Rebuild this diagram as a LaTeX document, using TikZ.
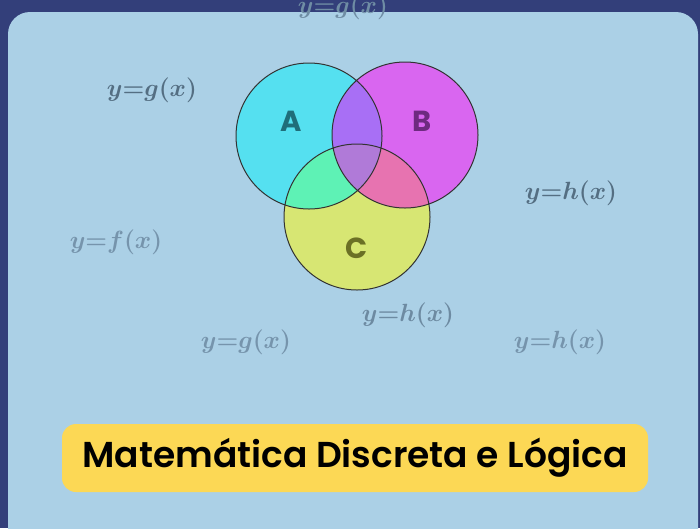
\documentclass[tikz,border=0pt]{standalone}
\usepackage{fontspec}
\newfontfamily\titlefont{Poppins}[BoldFont={* SemiBold}]
\newfontfamily\labelfont{Poppins}[BoldFont={* Bold}]
\definecolor{navy}{RGB}{51,63,122}
\definecolor{panel}{RGB}{171,208,230}
\definecolor{ca}{RGB}{85,224,240}
\definecolor{cb}{RGB}{217,102,240}
\definecolor{cc}{RGB}{215,230,115}
\definecolor{cab}{RGB}{168,111,245}
\definecolor{cac}{RGB}{94,242,181}
\definecolor{cbc}{RGB}{231,115,176}
\definecolor{cabc}{RGB}{176,122,216}
\definecolor{gdark}{RGB}{84,110,130}
\definecolor{glight}{RGB}{118,148,172}
\definecolor{ybox}{RGB}{252,216,85}
\tikzset{
  fn/.style={font=\fontsize{25}{27}\selectfont\boldmath, inner sep=0pt},
  setlabel/.style={font=\labelfont\bfseries\fontsize{29}{31}\selectfont, inner sep=0pt},
}
\begin{document}
\begin{tikzpicture}[x=1pt,y=-1pt]
\useasboundingbox (0,0) rectangle (700,528);
\fill[navy] (0,0) rectangle (700,528);
\begin{scope}
\clip (0,0) rectangle (700,528);
\fill[panel, rounded corners=22pt] (8,12) rectangle (698,560);
\node[fn, text=glight!80!gdark] (f0) at (343,7) {$y{=}g(x)$};
\end{scope}
% Venn
\coordinate (A) at (309,136);
\coordinate (B) at (405,135);
\coordinate (C) at (357,217);
\fill[ca] (A) circle (73);
\fill[cb] (B) circle (73);
\fill[cc] (C) circle (73);
\begin{scope}\clip (A) circle (73); \fill[cab] (B) circle (73); \end{scope}
\begin{scope}\clip (A) circle (73); \fill[cac] (C) circle (73); \end{scope}
\begin{scope}\clip (B) circle (73); \fill[cbc] (C) circle (73); \end{scope}
\begin{scope}\clip (A) circle (73); \clip (B) circle (73); \fill[cabc] (C) circle (73); \end{scope}
\draw[black!80, line width=1pt] (A) circle (73) (B) circle (73) (C) circle (73);
\node[setlabel, text={rgb,255:red,31;green,110;blue,122}] (la) at (291,121) {A};
\node[setlabel, text={rgb,255:red,110;green,42;blue,128}] (lb) at (422,121) {B};
\node[setlabel, text={rgb,255:red,107;green,112;blue,37}] (lc) at (357,248) {C};
% function labels
\node[fn, text=gdark] (f1) at (152,90) {$y{=}g(x)$};
\node[fn, text=glight] (f2) at (116,242) {$y{=}f(x)$};
\node[fn, text=gdark] (f3) at (571,193) {$y{=}h(x)$};
\node[fn, text=glight!75!gdark] (f4) at (408,315) {$y{=}h(x)$};
\node[fn, text=glight] (f5) at (246,342) {$y{=}g(x)$};
\node[fn, text=glight] (f6) at (560,342) {$y{=}h(x)$};
% title
\fill[ybox, rounded corners=14pt] (62,424) rectangle (648,492);
\node[font=\titlefont\bfseries\fontsize{36}{38}\selectfont, inner sep=0pt] (title) at (355,458) {Matemática Discreta e Lógica};
\end{tikzpicture}
\end{document}
